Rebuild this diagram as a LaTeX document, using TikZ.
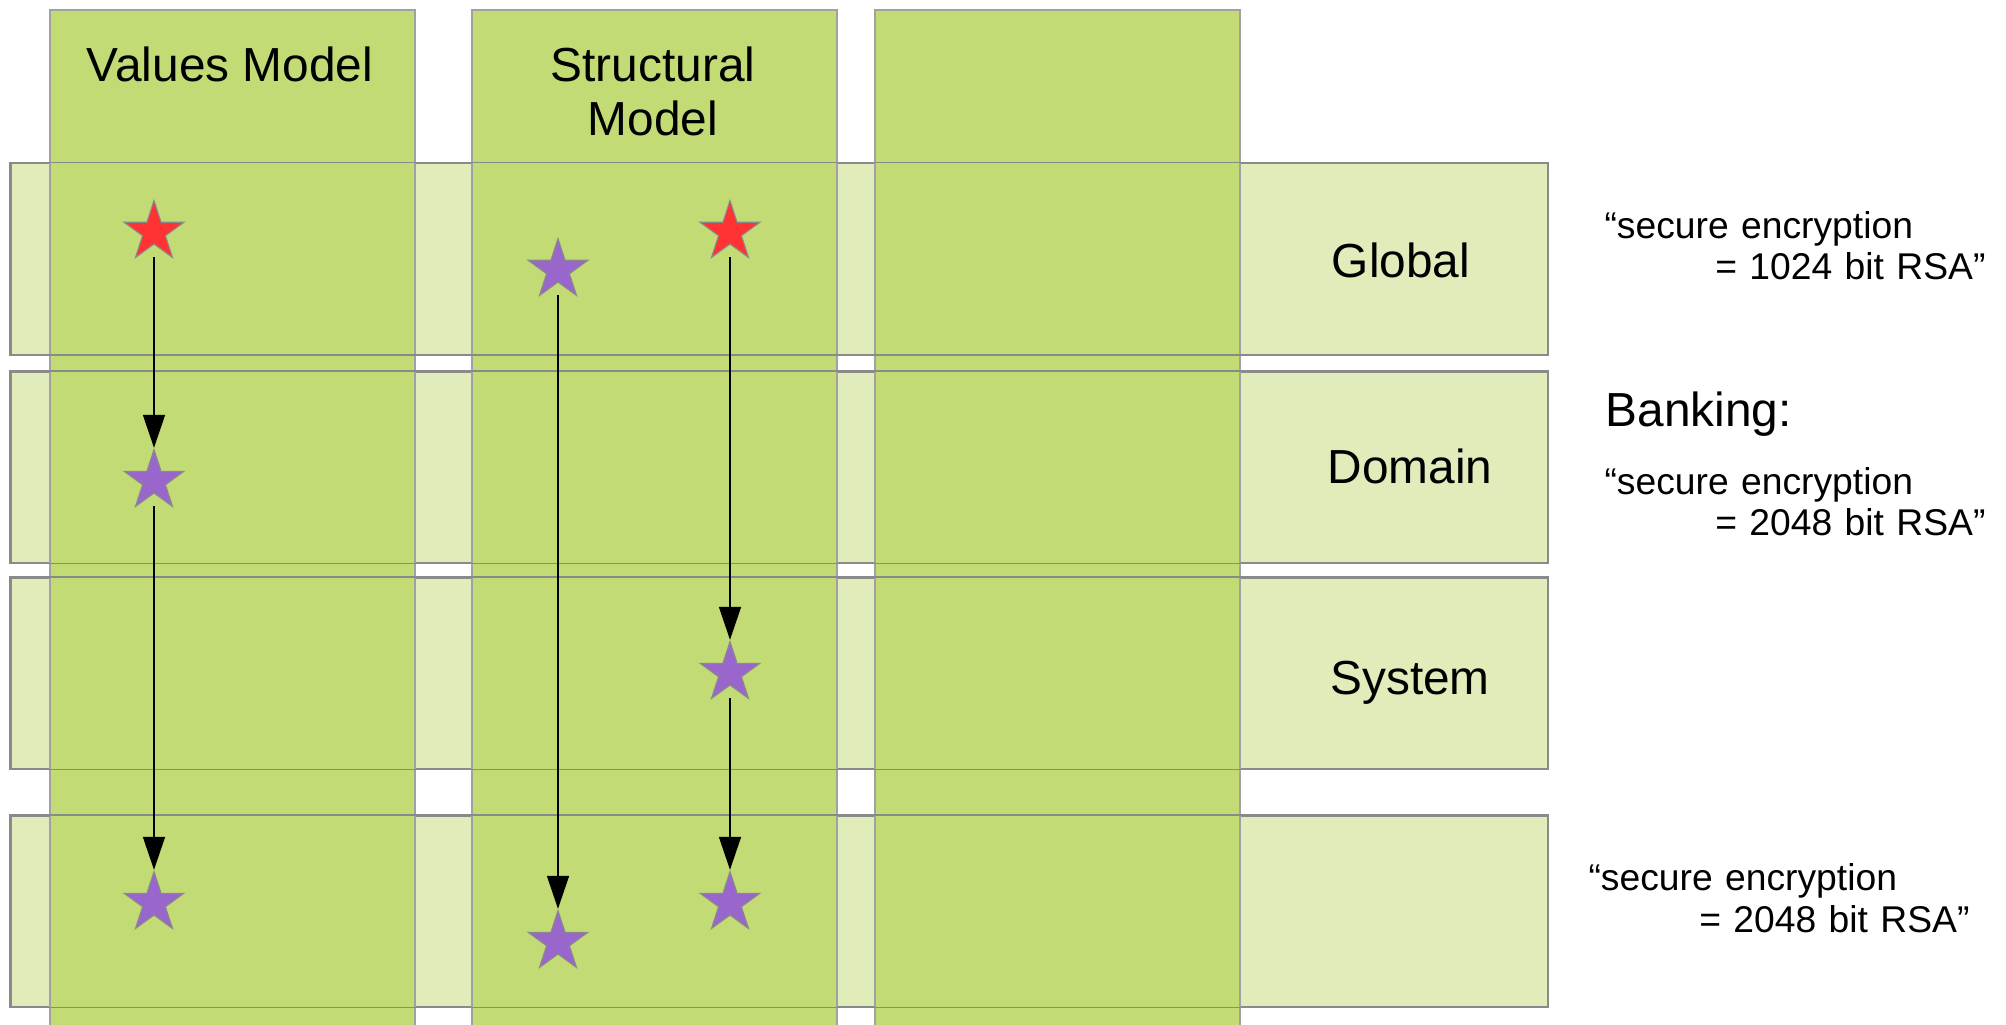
\documentclass[tikz,border=0pt]{standalone}
\usepackage{fontspec}
\setmainfont{Liberation Sans}
\usepackage{xcolor}
\definecolor{modelgreen}{HTML}{C2DB74}
\definecolor{layergreen}{HTML}{E0ECBA}
\definecolor{edgegray}{HTML}{8A8A8A}
\definecolor{starred}{HTML}{FF3333}
\definecolor{starpurple}{HTML}{9966CC}
\usepackage{tikz}
\usetikzlibrary{shapes.geometric, arrows.meta, positioning}
\tikzset{
  layerbox/.style={rectangle, draw=edgegray, line width=0.45pt, fill=layergreen, anchor=north west,
                   inner sep=0pt, minimum width=15.37cm, minimum height=1.91cm},
  layerline/.style={draw=edgegray, line width=0.45pt},
  modelbox/.style={rectangle, draw=edgegray!80, line width=0.45pt, fill=modelgreen, anchor=north west,
                   inner sep=0pt, minimum width=3.65cm, minimum height=10.4cm},
  modeltitle/.style={align=center, font=\fontsize{13.6}{15.4}\selectfont},
  layertitle/.style={font=\fontsize{13.6}{15.4}\selectfont},
  rulenote/.style={align=left, text width=3.81cm, inner sep=0pt, font=\fontsize{10.6}{11.8}\selectfont},
  vstar/.style={star, star points=5, star point ratio=2.618, minimum size=0.63cm, inner sep=0pt,
                draw=edgegray, line width=0.3pt},
  redstar/.style={vstar, fill=starred},
  purplestar/.style={vstar, fill=starpurple},
  flow/.style={-{Triangle[length=3.3mm, width=2.2mm]}, line width=0.5pt, color=black},
}

\begin{document}
\begin{tikzpicture}[x=1cm, y=-1cm]
  \useasboundingbox (0,0) rectangle (20.06,10.24);

  % layers
  \node[layerbox] (lay1) at (0.10,1.625) {};
  \node[layerbox] (lay2) at (0.10,3.71) {};
  \node[layerbox] (lay3) at (0.10,5.77) {};
  \node[layerbox] (lay4) at (0.10,8.15) {};

  % models
  \node[modelbox] (col1) at (0.49,0.09) {};
  \node[modelbox] (col2) at (4.71,0.09) {};
  \node[modelbox] (col3) at (8.74,0.09) {};

  % layer edges show through the models
  \foreach \r in {lay1,lay2,lay3,lay4}
    \draw[layerline] (\r.north west) rectangle (\r.south east);

  \node[modeltitle] (t1) at (2.30,0.64) {Values Model};
  \node[modeltitle] (t2) at (6.53,0.91) {Structural\\Model};

  \node[layertitle] (g1) at (14.01,2.60) {Global};
  \node[layertitle] (g2) at (14.10,4.66) {Domain};
  \node[layertitle] (g3) at (14.10,6.83) {System};

  \node[rulenote] (q1) at (17.95,2.455) {“secure encryption\\\hspace*{\fill}= 1024 bit RSA”};
  \node[layertitle, anchor=west, inner sep=0pt] (bank) at (16.05,4.14) {Banking:};
  \node[rulenote] (q2) at (17.95,5.015) {“secure encryption\\\hspace*{\fill}= 2048 bit RSA”};
  \node[rulenote] (q3) at (17.79,8.98) {“secure encryption\\\hspace*{\fill}= 2048 bit RSA”};

  % values model
  \node[redstar] (v1) at (1.54,2.32) {};
  \node[purplestar] (v2) at (1.54,4.81) {};
  \node[purplestar] (v3) at (1.54,9.03) {};

  % structural model
  \node[purplestar] (s1) at (5.58,2.70) {};
  \node[purplestar] (s2) at (5.58,9.42) {};
  \node[redstar] (s3) at (7.30,2.32) {};
  \node[purplestar] (s4) at (7.30,6.73) {};
  \node[purplestar] (s5) at (7.30,9.03) {};

  \draw[flow] ([yshift=-0.25cm]v1.center) -- (v2.north);
  \draw[flow] ([yshift=-0.25cm]v2.center) -- (v3.north);
  \draw[flow] ([yshift=-0.25cm]s1.center) -- (s2.north);
  \draw[flow] ([yshift=-0.25cm]s3.center) -- (s4.north);
  \draw[flow] ([yshift=-0.25cm]s4.center) -- (s5.north);
\end{tikzpicture}
\end{document}
